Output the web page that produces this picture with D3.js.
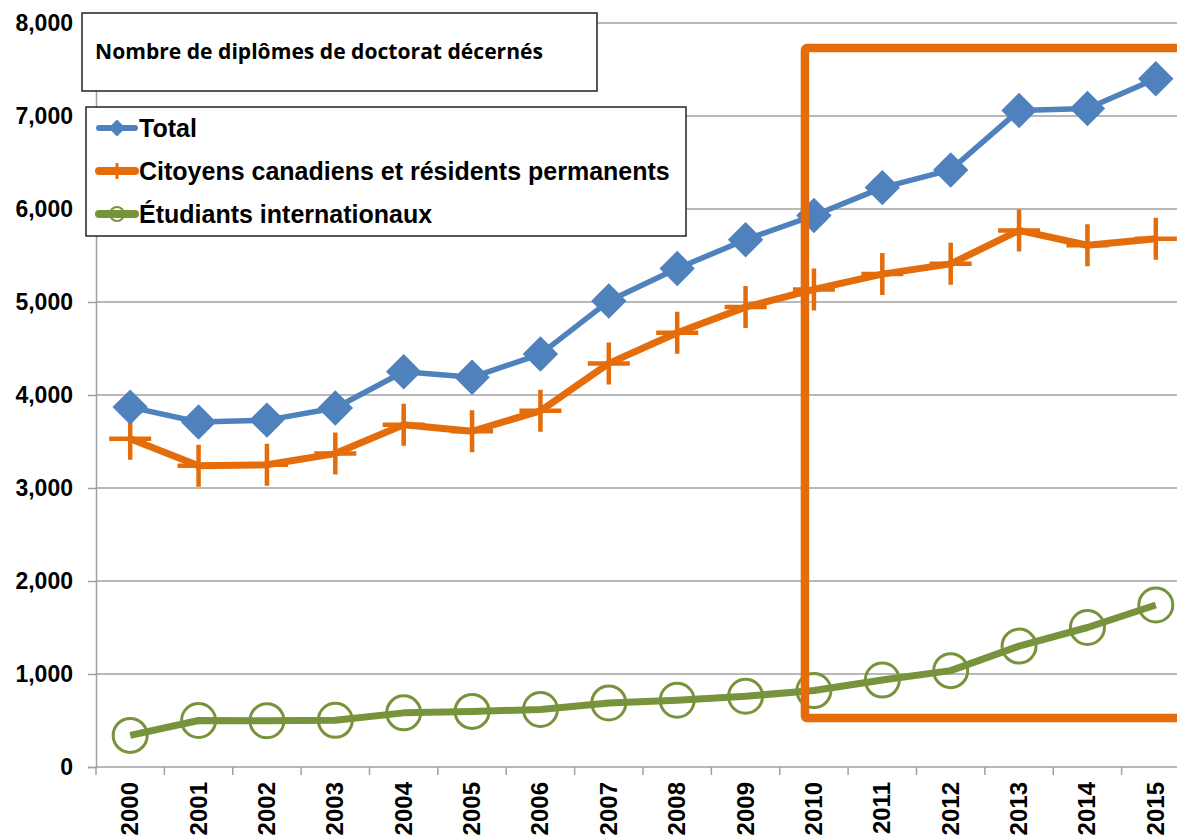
<!DOCTYPE html>
<html>
<head>
<meta charset="utf-8">
<script src="https://d3js.org/d3.v7.min.js"></script>
<style>
  body { margin: 0; background: #fff; overflow: hidden; }
  svg { display: block; }
</style>
</head>
<body>
<div id="container"></div>
<script>
// data
var years = ["2000","2001","2002","2003","2004","2005","2006","2007","2008","2009","2010","2011","2012","2013","2014","2015"]
var total = [3870, 3710, 3730, 3860, 4250, 4190, 4440, 5010, 5360, 5670, 5930, 6230, 6420, 7060, 7080, 7400]
var citoyens = [3530, 3240, 3250, 3370, 3680, 3610, 3830, 4340, 4670, 4945, 5135, 5300, 5410, 5770, 5610, 5680]
var internationaux = [340, 500, 498, 502, 582, 598, 618, 689, 718, 761, 822, 935, 1036, 1300, 1500, 1742]
var yTicks = [0, 1000, 2000, 3000, 4000, 5000, 6000, 7000, 8000]
var seriesNames = ["Total", "Citoyens canadiens et résidents permanents", "Étudiants internationaux"]
var titleText = "Nombre de diplômes de doctorat décernés"
// highlighted period box (starts at 2010, runs off the right edge)
var boxStart = "2010"
var boxTop = 7730, boxBottom = 527

// set the dimensions and margins of the graph
var W = 1177, H = 836
var margin = {top: 23, left: 96, bottom: 69}
var plotRight = 1190   // the plot runs past the picture edge

var svg = d3.select("#container")
  .append("svg")
    .attr("width", W)
    .attr("height", H)

var x = d3.scaleBand()
  .domain(years)
  .range([margin.left, plotRight])
var y = d3.scaleLinear()
  .domain([0, 8000])
  .range([H - margin.bottom, margin.top])

var cx = function(d) { return x(d) + x.bandwidth() / 2 }

// gridlines
svg.append("g")
  .selectAll("line")
  .data(yTicks.slice(1))
  .enter().append("line")
    .attr("x1", margin.left)
    .attr("x2", plotRight)
    .attr("y1", function(d) { return y(d) })
    .attr("y2", function(d) { return y(d) })
    .attr("stroke", "#a0a0a0")
    .attr("stroke-width", 1.5)

// Y axis
var yAxis = svg.append("g")
  .attr("transform", "translate(" + margin.left + ",0)")
  .call(d3.axisLeft(y).tickValues(yTicks).tickFormat(d3.format(",")).tickSize(8).tickPadding(15))
yAxis.selectAll("path, line").attr("stroke", "#a0a0a0").attr("stroke-width", 1.5)
yAxis.selectAll("text")
  .attr("font-family", "'Liberation Sans', Arial, sans-serif")
  .attr("font-size", 23)
  .attr("font-weight", "bold")
  .attr("fill", "#000")

// X axis: ticks sit on category boundaries
var xAxis = svg.append("g")
  .attr("transform", "translate(0," + y(0) + ")")
xAxis.append("line")
  .attr("x1", margin.left).attr("x2", plotRight)
  .attr("stroke", "#a0a0a0").attr("stroke-width", 1.5)
xAxis.selectAll(".tk")
  .data(years)
  .enter().append("line")
    .attr("class", "tk")
    .attr("x1", function(d) { return x(d) + x.bandwidth() })
    .attr("x2", function(d) { return x(d) + x.bandwidth() })
    .attr("y1", 0).attr("y2", 8)
    .attr("stroke", "#a0a0a0").attr("stroke-width", 1.5)
xAxis.append("line")
  .attr("x1", margin.left).attr("x2", margin.left)
  .attr("y1", 0).attr("y2", 8)
  .attr("stroke", "#a0a0a0").attr("stroke-width", 1.5)
xAxis.selectAll("text")
  .data(years)
  .enter().append("text")
    .attr("transform", function(d) { return "translate(" + (cx(d) + 8) + ",15) rotate(-90)" })
    .attr("text-anchor", "end")
    .attr("font-family", "'Liberation Sans', Arial, sans-serif")
    .attr("font-size", 24)
    .attr("font-weight", "bold")
    .text(function(d) { return d })

var line = d3.line()
  .x(function(d, i) { return cx(years[i]) })
  .y(function(d) { return y(d) })

// orange line (citoyens)
svg.append("path")
  .datum(citoyens)
  .attr("fill", "none")
  .attr("stroke", "#e46c0a")
  .attr("stroke-width", 7)
  .attr("stroke-linejoin", "round")
  .attr("d", line)
svg.append("g")
  .selectAll("path")
  .data(citoyens)
  .enter().append("path")
    .attr("d", function(d, i) {
      var px = cx(years[i]), py = y(d)
      return "M" + (px - 21) + "," + py + "H" + (px + 21) + "M" + px + "," + (py - 21) + "V" + (py + 21)
    })
    .attr("stroke", "#e46c0a")
    .attr("stroke-width", 4.5)

// blue line (total)
svg.append("path")
  .datum(total)
  .attr("fill", "none")
  .attr("stroke", "#4f81bd")
  .attr("stroke-width", 5.5)
  .attr("stroke-linejoin", "round")
  .attr("d", line)
svg.append("g")
  .selectAll("path")
  .data(total)
  .enter().append("path")
    .attr("transform", function(d, i) { return "translate(" + cx(years[i]) + "," + y(d) + ")" })
    .attr("d", d3.symbol().type(d3.symbolDiamond2).size(800))
    .attr("fill", "#4f81bd")

// green line (internationaux)
svg.append("path")
  .datum(internationaux)
  .attr("fill", "none")
  .attr("stroke", "#77933c")
  .attr("stroke-width", 7)
  .attr("stroke-linejoin", "round")
  .attr("d", line)
svg.append("g")
  .selectAll("circle")
  .data(internationaux)
  .enter().append("circle")
    .attr("cx", function(d, i) { return cx(years[i]) })
    .attr("cy", function(d) { return y(d) })
    .attr("r", 17)
    .attr("fill", "none")
    .attr("stroke", "#77933c")
    .attr("stroke-width", 3)

// highlight box
var bx = cx(boxStart) - 9
svg.append("rect")
  .attr("x", bx)
  .attr("y", y(boxTop))
  .attr("width", W + 50 - bx)
  .attr("height", y(boxBottom) - y(boxTop))
  .attr("fill", "none")
  .attr("stroke", "#e46c0a")
  .attr("stroke-width", 8.5)
  .attr("rx", 2)

// title box
var tg = svg.append("g")
tg.append("rect")
  .attr("x", 82).attr("y", 13)
  .attr("width", 515).attr("height", 78)
  .attr("fill", "#fff")
  .attr("stroke", "#222")
  .attr("stroke-width", 1.5)
tg.append("text")
  .attr("x", 95).attr("y", 59)
  .attr("font-family", "'Open Sans', 'Noto Sans', sans-serif")
  .attr("font-size", 20.5)
  .attr("font-weight", "bold")
  .attr("textLength", 448)
  .attr("lengthAdjust", "spacingAndGlyphs")
  .text(titleText)

// legend
var colors = ["#4f81bd", "#e46c0a", "#77933c"]
var lg = svg.append("g")
lg.append("rect")
  .attr("x", 86).attr("y", 107)
  .attr("width", 600).attr("height", 129)
  .attr("fill", "#fff")
  .attr("stroke", "#222")
  .attr("stroke-width", 1.5)
var item = lg.selectAll(".item")
  .data(seriesNames)
  .enter().append("g")
    .attr("class", "item")
    .attr("transform", function(d, i) { return "translate(0," + (128 + i * 43) + ")" })
item.append("line")
  .attr("x1", 99).attr("x2", 135)
  .attr("stroke", function(d, i) { return colors[i] })
  .attr("stroke-width", function(d, i) { return i == 0 ? 6 : 8 })
  .attr("stroke-linecap", "round")
item.each(function(d, i) {
  var g = d3.select(this)
  if (i == 0) {
    g.append("path").attr("transform", "translate(117,0)")
      .attr("d", d3.symbol().type(d3.symbolDiamond2).size(180))
      .attr("fill", colors[0])
  } else if (i == 1) {
    g.append("path").attr("d", "M117,-8V8").attr("stroke", colors[1]).attr("stroke-width", 3)
  } else {
    g.append("circle").attr("cx", 117).attr("r", 7)
      .attr("fill", "none").attr("stroke", colors[2]).attr("stroke-width", 2)
  }
})
item.append("text")
  .attr("x", 139)
  .attr("dy", "0.35em")
  .attr("font-family", "'Liberation Sans', Arial, sans-serif")
  .attr("font-size", 25)
  .attr("font-weight", "bold")
  .text(function(d) { return d })
</script>
</body>
</html>
